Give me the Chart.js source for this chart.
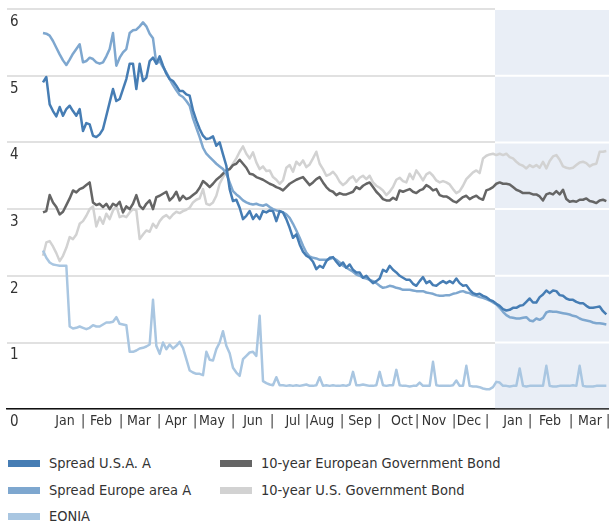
<!DOCTYPE html>
<html>
<head>
<meta charset="utf-8">
<script src="https://cdn.jsdelivr.net/npm/chart.js@4/dist/chart.umd.min.js"></script>
<style>
  html, body { margin: 0; padding: 0; background: #ffffff; }
  #wrap { position: relative; width: 609px; height: 434px; }
  #legend { position: relative; width: 609px; height: 89px;
    font-family: 'DejaVu Sans Condensed', 'Liberation Sans', sans-serif;
    font-size: 14.5px; color: #333333; }
  .item { position: absolute; height: 20px; display: flex; align-items: center; white-space: nowrap; }
  .sw { width: 32px; height: 7px; margin-right: 9px; }
</style>
</head>
<body>
<div id="wrap"><canvas id="c" width="609" height="434"></canvas></div>
<div id="legend"></div>
<script>
// ---- Data (observation index ~ every other trading day, Jan of year 1 to Mar of year 2) ----
const spreadUSA = [
  4.90,4.98,4.57,4.47,4.39,4.53,4.40,4.50,4.55,4.47,
  4.40,4.50,4.17,4.29,4.27,4.10,4.08,4.12,4.20,4.40,
  4.60,4.80,4.62,4.65,4.80,4.95,5.18,5.18,4.80,5.18,
  4.92,4.97,5.22,5.27,5.18,5.29,5.15,5.03,4.95,4.92,
  4.85,4.77,4.77,4.72,4.70,4.48,4.33,4.20,4.10,4.05,
  4.06,4.09,3.95,4.00,3.82,3.65,3.30,3.12,3.14,3.02,
  2.85,2.90,2.97,2.85,2.92,2.85,2.97,2.95,2.98,2.97,
  2.82,2.97,2.95,2.85,2.72,2.57,2.62,2.47,2.36,2.30,
  2.27,2.21,2.10,2.15,2.12,2.22,2.27,2.28,2.21,2.15,
  2.20,2.12,2.17,2.09,2.05,2.05,1.97,2.00,1.94,1.89,
  1.92,1.96,2.09,2.06,2.15,2.09,2.05,2.00,1.97,1.94,
  1.94,1.88,1.85,1.92,1.98,1.89,1.92,1.86,1.85,1.89,
  1.92,1.89,1.92,1.89,1.96,1.89,1.85,1.86,1.79,1.74,
  1.72,1.73,1.70,1.68,1.64,1.62,1.58,1.55,1.50,1.48,
  1.49,1.52,1.52,1.55,1.56,1.61,1.66,1.60,1.60,1.68,
  1.72,1.78,1.74,1.78,1.77,1.71,1.70,1.66,1.64,1.64,
  1.61,1.59,1.59,1.55,1.52,1.52,1.53,1.54,1.47,1.42
];
const spreadEurope = [
  5.64,5.63,5.60,5.52,5.42,5.32,5.23,5.16,5.24,5.33,
  5.40,5.47,5.20,5.22,5.27,5.25,5.20,5.18,5.20,5.29,
  5.40,5.64,5.15,5.27,5.35,5.40,5.64,5.68,5.69,5.74,
  5.80,5.74,5.63,5.56,5.18,5.22,5.13,5.05,4.95,4.86,
  4.78,4.71,4.68,4.62,4.55,4.36,4.22,4.08,3.92,3.83,
  3.78,3.73,3.68,3.64,3.60,3.53,3.40,3.27,3.22,3.18,
  3.13,3.10,3.08,3.07,3.08,3.06,3.05,3.07,3.03,3.00,
  2.98,2.97,2.95,2.92,2.87,2.78,2.68,2.57,2.45,2.35,
  2.29,2.27,2.26,2.24,2.24,2.24,2.25,2.27,2.24,2.20,
  2.15,2.12,2.09,2.06,2.02,2.00,1.97,1.96,1.94,1.92,
  1.89,1.85,1.82,1.83,1.85,1.84,1.82,1.81,1.79,1.79,
  1.79,1.78,1.77,1.77,1.77,1.75,1.74,1.73,1.71,1.70,
  1.70,1.71,1.71,1.73,1.74,1.76,1.77,1.75,1.74,1.71,
  1.70,1.68,1.67,1.65,1.63,1.60,1.57,1.52,1.46,1.41,
  1.38,1.37,1.36,1.36,1.37,1.38,1.33,1.32,1.36,1.34,
  1.37,1.45,1.47,1.46,1.46,1.45,1.44,1.43,1.42,1.40,
  1.39,1.36,1.34,1.33,1.32,1.30,1.29,1.29,1.28,1.27
];
const eonia = [
  2.38,2.27,2.20,2.17,2.16,2.15,2.15,2.15,1.24,1.21,
  1.22,1.24,1.22,1.20,1.22,1.26,1.24,1.24,1.27,1.30,
  1.30,1.31,1.38,1.28,1.27,1.26,0.86,0.86,0.88,0.91,
  0.92,0.94,0.97,1.64,0.95,0.83,1.00,0.90,0.97,0.91,
  0.95,1.01,0.92,0.75,0.58,0.55,0.53,0.53,0.51,0.86,
  0.74,0.73,0.90,1.00,1.17,0.95,0.84,0.62,0.55,0.50,
  0.75,0.80,0.85,0.86,0.80,1.40,0.42,0.39,0.37,0.36,
  0.48,0.36,0.36,0.35,0.36,0.35,0.36,0.35,0.36,0.37,
  0.35,0.35,0.36,0.48,0.35,0.36,0.35,0.36,0.35,0.35,
  0.36,0.35,0.37,0.56,0.36,0.36,0.37,0.36,0.35,0.35,
  0.36,0.56,0.36,0.35,0.36,0.36,0.59,0.36,0.35,0.35,
  0.34,0.35,0.35,0.40,0.35,0.35,0.35,0.71,0.36,0.35,
  0.35,0.35,0.35,0.36,0.43,0.35,0.35,0.65,0.35,0.34,
  0.34,0.33,0.31,0.30,0.30,0.33,0.41,0.40,0.35,0.35,
  0.34,0.35,0.35,0.61,0.35,0.34,0.35,0.35,0.35,0.35,
  0.35,0.65,0.35,0.34,0.34,0.35,0.35,0.35,0.35,0.36,
  0.35,0.65,0.35,0.34,0.34,0.34,0.35,0.35,0.35,0.35
];
const euroGovBond10y = [
  2.95,2.97,3.21,3.10,3.03,2.92,2.96,3.06,3.16,3.28,
  3.25,3.30,3.32,3.36,3.40,3.10,3.06,3.08,3.03,3.08,
  3.00,3.08,3.05,3.11,2.95,3.04,3.00,3.08,3.21,3.05,
  3.00,3.08,3.13,3.00,3.18,3.20,3.23,3.26,3.13,3.18,
  3.26,3.13,3.20,3.15,3.17,3.21,3.25,3.32,3.42,3.38,
  3.33,3.38,3.44,3.48,3.53,3.58,3.60,3.66,3.68,3.74,
  3.68,3.62,3.53,3.52,3.48,3.46,3.44,3.41,3.38,3.36,
  3.33,3.31,3.28,3.33,3.38,3.41,3.44,3.46,3.48,3.42,
  3.36,3.40,3.45,3.48,3.40,3.33,3.28,3.26,3.21,3.24,
  3.22,3.22,3.24,3.26,3.33,3.30,3.35,3.38,3.40,3.33,
  3.26,3.21,3.15,3.13,3.13,3.17,3.14,3.28,3.26,3.28,
  3.30,3.26,3.24,3.28,3.30,3.36,3.33,3.28,3.30,3.21,
  3.19,3.19,3.16,3.12,3.10,3.14,3.18,3.20,3.15,3.18,
  3.20,3.16,3.14,3.28,3.30,3.33,3.38,3.40,3.38,3.38,
  3.37,3.33,3.29,3.27,3.24,3.24,3.24,3.22,3.22,3.19,
  3.13,3.22,3.24,3.22,3.27,3.22,3.29,3.15,3.11,3.12,
  3.11,3.14,3.14,3.16,3.12,3.11,3.09,3.13,3.14,3.12
];
const usGovBond10y = [
  2.30,2.50,2.52,2.44,2.34,2.22,2.30,2.42,2.58,2.55,
  2.62,2.78,2.82,2.90,3.00,3.04,2.74,2.88,2.78,2.93,
  2.85,2.98,3.05,2.88,2.90,2.88,2.95,3.00,2.98,2.55,
  2.62,2.68,2.66,2.78,2.72,2.82,2.88,2.91,2.86,2.92,
  2.96,2.94,2.97,2.99,3.02,3.10,3.14,3.16,3.30,3.08,
  3.06,3.10,3.20,3.38,3.48,3.56,3.60,3.68,3.76,3.86,
  3.94,3.83,3.76,3.85,3.70,3.60,3.64,3.57,3.58,3.48,
  3.44,3.38,3.43,3.62,3.66,3.56,3.71,3.66,3.73,3.63,
  3.67,3.76,3.86,3.68,3.60,3.50,3.52,3.56,3.50,3.41,
  3.36,3.40,3.46,3.49,3.41,3.47,3.50,3.45,3.50,3.40,
  3.35,3.32,3.28,3.21,3.26,3.33,3.44,3.47,3.42,3.40,
  3.53,3.45,3.58,3.51,3.43,3.52,3.55,3.50,3.43,3.40,
  3.42,3.40,3.37,3.30,3.24,3.27,3.35,3.45,3.50,3.55,
  3.58,3.54,3.76,3.80,3.82,3.83,3.81,3.83,3.81,3.83,
  3.78,3.76,3.71,3.67,3.65,3.61,3.66,3.63,3.66,3.62,
  3.71,3.61,3.72,3.79,3.81,3.74,3.64,3.62,3.61,3.62,
  3.66,3.70,3.71,3.69,3.64,3.67,3.68,3.86,3.86,3.87
];

// x-axis: month names, month-centre positions and month boundaries (observation index)
const monthNames = ['Jan','Feb','Mar','Apr','May','Jun','Jul','Aug','Sep','Oct','Nov','Dec','Jan','Feb','Mar'];
const monthCenters = [6.6,17.4,28.8,39.9,50.7,63.0,75.0,83.7,95.1,107.7,117.3,127.8,141.0,152.1,164.1];
const monthBounds = [12.0,23.4,34.8,45.6,57.0,68.7,79.2,89.7,100.8,112.2,123.3,133.2,146.1,158.4,169.5];
const xMin = -10.8, xMax = 169.8;
const shadeStart = 135.6;   // start of shaded (forecast) period
const yTicks = [0,1,2,3,4,5,6];

const seriesNames = ['Spread U.S.A. A','Spread Europe area A','EONIA','10-year European Government Bond','10-year U.S. Government Bond'];
const seriesData = [spreadUSA, spreadEurope, eonia, euroGovBond10y, usGovBond10y];
const seriesColors = ['#467db4','#7ea7cf','#a9c6e1','#656565','#d2d2d2'];

const FONT = "'DejaVu Sans Condensed', 'Liberation Sans', sans-serif";
Chart.defaults.font.family = FONT;
Chart.defaults.color = '#333333';

const xTickList = [];
monthNames.forEach((m, i) => xTickList.push({ value: monthCenters[i], label: m }));
monthBounds.forEach(b => xTickList.push({ value: b, label: '|' }));
xTickList.sort((a, b) => a.value - b.value);

const shadePlugin = {
  id: 'shade',
  beforeDatasetsDraw(chart) {
    const { ctx, chartArea, scales } = chart;
    const x = scales.x, y = scales.y;
    const x0 = x.getPixelForValue(shadeStart);
    const yb = y.getPixelForValue(0);
    ctx.save();
    ctx.fillStyle = '#e9eef6';
    ctx.fillRect(x0, chartArea.top - 1, chartArea.right - x0, yb - chartArea.top);
    ctx.strokeStyle = '#ffffff';
    ctx.lineWidth = 2;
    yTicks.forEach(v => {
      if (v === 0) return;
      const py = y.getPixelForValue(v);
      ctx.beginPath(); ctx.moveTo(x0, py); ctx.lineTo(chartArea.right, py); ctx.stroke();
    });
    ctx.restore();
  }
};

const datasets = seriesData.map((arr, k) => ({
  label: seriesNames[k],
  data: arr.map((v, i) => ({ x: i, y: v })),
  borderColor: seriesColors[k],
  backgroundColor: seriesColors[k],
  borderWidth: 2.5,
  pointRadius: 0,
  tension: 0,
  borderJoinStyle: 'round',
  fill: false
}));

new Chart(document.getElementById('c'), {
  type: 'line',
  data: { datasets },
  plugins: [shadePlugin],
  options: {
    responsive: false,
    animation: false,
    devicePixelRatio: 1,
    layout: { padding: { left: 7, right: 0, top: 9, bottom: 0 } },
    plugins: { legend: { display: false }, tooltip: { enabled: false } },
    scales: {
      x: {
        type: 'linear',
        min: xMin, max: xMax,
        afterBuildTicks: (scale) => { scale.ticks = xTickList.map(t => ({ value: t.value })); },
        afterFit: (scale) => { scale.paddingLeft = 0; scale.paddingRight = 0; },
        grid: { display: false, drawTicks: false },
        border: { display: true, color: '#111111', width: 1.5 },
        ticks: {
          autoSkip: false, maxRotation: 0, minRotation: 0, padding: 4,
          font: { size: 14 }, color: '#333333',
          callback: (v, i) => xTickList[i] ? xTickList[i].label : ''
        }
      },
      y: {
        min: 0, max: 6,
        afterBuildTicks: (scale) => { scale.ticks = yTicks.map(v => ({ value: v })); },
        afterFit: (scale) => { scale.width = 0; scale.paddingTop = 0; scale.paddingBottom = 0; },
        grid: { color: '#e1e1e1', lineWidth: 2, drawTicks: false },
        border: { display: false },
        ticks: { mirror: true, padding: 3, labelOffset: 13, font: { size: 15 }, color: '#333333' }
      }
    }
  }
});

// HTML legend (two columns)
const legendPos = [
  { col: 0, row: 0 }, { col: 0, row: 1 }, { col: 0, row: 2 },
  { col: 1, row: 0 }, { col: 1, row: 1 }
];
const colX = [8, 220];
const rowY = [19, 46, 72];
const legendEl = document.getElementById('legend');
seriesNames.forEach((name, k) => {
  const it = document.createElement('div');
  it.className = 'item';
  it.style.left = colX[legendPos[k].col] + 'px';
  it.style.top = rowY[legendPos[k].row] + 'px';
  const sw = document.createElement('span');
  sw.className = 'sw';
  sw.style.background = seriesColors[k];
  const tx = document.createElement('span');
  tx.textContent = name;
  it.appendChild(sw); it.appendChild(tx);
  legendEl.appendChild(it);
});
</script>
</body>
</html>
